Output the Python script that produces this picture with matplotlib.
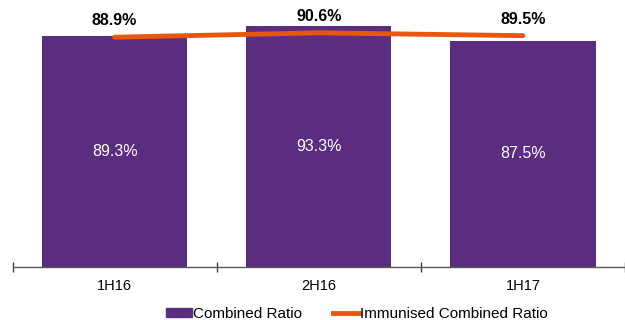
import matplotlib.pyplot as plt
import numpy as np
from matplotlib.patches import Patch
from matplotlib.lines import Line2D

plt.rcParams['font.family'] = ['Liberation Sans', 'DejaVu Sans']

periods = ['1H16', '2H16', '1H17']
combined = [89.3, 93.3, 87.5]
immunised = [88.9, 90.6, 89.5]

PURPLE = '#5a2d81'
ORANGE = '#e8580c'

fig = plt.figure(figsize=(6.25, 3.2), dpi=100)
ax = fig.add_axes([12.5/625, 53/320, 1 - 12.5/625, 267/320])

x = np.arange(len(periods))
bars = ax.bar(x, combined, width=0.712, color=PURPLE, zorder=2)
ax.plot(x, immunised, color=ORANGE, lw=3.5, solid_capstyle='round', zorder=3)

for xi, v in zip(x, combined):
    ax.text(xi, v / 2, '%.1f%%' % v, ha='center', va='center',
            color='white', fontsize=11.5)
for xi, v in zip(x, immunised):
    ax.annotate('%.1f%%' % v, (xi, v), xytext=(0, 12), textcoords='offset points',
                ha='center', va='center', fontsize=11.5, fontweight='bold')

ax.set_xlim(-0.5, -0.5 + 612.5/206.5)
ax.set_ylim(0, 103.3)

# category separators as ticks, labels in the middle
ax.set_xticks([-0.5, 0.5, 1.5, 2.5])
ax.set_xticklabels([])
ax.set_xticks(x, minor=True)
ax.set_xticklabels(periods, minor=True, fontsize=10.5)
ax.tick_params(axis='x', which='major', direction='inout', length=7, width=1, color='#404040')
ax.tick_params(axis='x', which='minor', length=0, pad=9)
ax.set_yticks([])
for s in ['top', 'right', 'left']:
    ax.spines[s].set_visible(False)
ax.spines['bottom'].set_color('#595959')
ax.spines['bottom'].set_linewidth(1)

handles = [Patch(color=PURPLE), Line2D([], [], color=ORANGE, lw=3.5)]
fig.legend(handles, ['Combined Ratio', 'Immunised Combined Ratio'],
           loc='center', bbox_to_anchor=(357/625, 6/320), ncol=2, frameon=False,
           fontsize=11, handlelength=1.7, handleheight=0.55, handletextpad=0.1,
           columnspacing=2.0, borderpad=0, borderaxespad=0)

fig.savefig('out.png', dpi=100)
